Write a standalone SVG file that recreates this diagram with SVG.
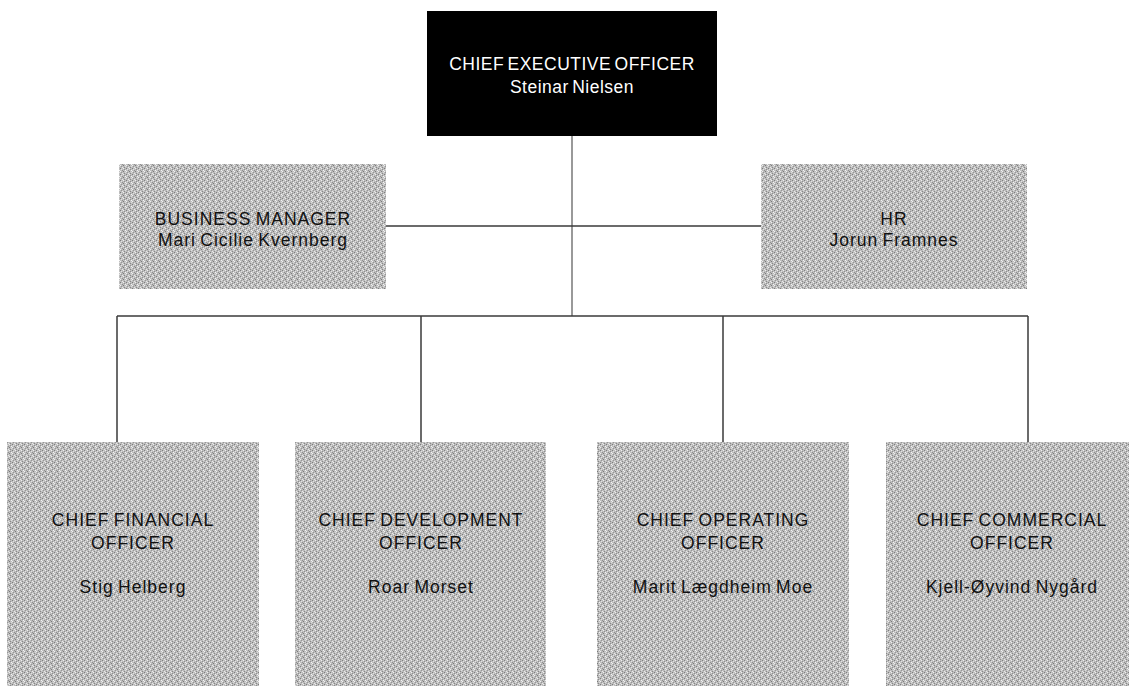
<svg xmlns="http://www.w3.org/2000/svg" width="1129" height="686" viewBox="0 0 1129 686">
  <defs>
    <pattern id="dither" x="0" y="0" width="6" height="6" patternUnits="userSpaceOnUse">
      <rect width="6" height="6" fill="#bdbdbd"/>
      <rect x="0" y="0" width="1" height="1" fill="#7e7e7e"/>
      <rect x="3" y="0" width="1" height="1" fill="#eeeeee"/>
      <rect x="1" y="1" width="1" height="1" fill="#e2e2e2"/>
      <rect x="4" y="1" width="1" height="1" fill="#8f8f8f"/>
      <rect x="2" y="2" width="1" height="1" fill="#909090"/>
      <rect x="5" y="2" width="1" height="1" fill="#f4f4f4"/>
      <rect x="0" y="3" width="1" height="1" fill="#f0f0f0"/>
      <rect x="3" y="3" width="1" height="1" fill="#7a7a7a"/>
      <rect x="1" y="4" width="1" height="1" fill="#969696"/>
      <rect x="5" y="4" width="1" height="1" fill="#dddddd"/>
      <rect x="2" y="5" width="1" height="1" fill="#e8e8e8"/>
      <rect x="4" y="5" width="1" height="1" fill="#888888"/>
    </pattern>
  </defs>
  <style>
    .box { fill: url(#dither); }
    .ceo { fill: #000000; }
    .t { font-family: "Liberation Sans", Arial, sans-serif; font-size: 17.5px; letter-spacing: 1px; word-spacing: -1.5px; text-anchor: middle; fill: #111111; }
    .tw { fill: #ffffff; letter-spacing: 0.5px; word-spacing: -2px; }
    .trunk { stroke: #999999; stroke-width: 2; fill: none; }
    .link { stroke: #3a3a3a; stroke-width: 1.5; fill: none; }
  </style>
  <rect width="1129" height="686" fill="#ffffff"/>

  <g id="connectors">
    <line class="trunk" x1="572" y1="136" x2="572" y2="316"/>
    <line class="link" x1="386" y1="226" x2="761" y2="226"/>
    <line class="link" x1="117" y1="316" x2="1028" y2="316"/>
    <line class="link" x1="117" y1="316" x2="117" y2="442"/>
    <line class="link" x1="421" y1="316" x2="421" y2="442"/>
    <line class="link" x1="723" y1="316" x2="723" y2="442"/>
    <line class="link" x1="1028" y1="316" x2="1028" y2="442"/>
  </g>

  <g id="ceo">
    <rect class="ceo" x="427" y="11" width="290" height="125"/>
    <text class="t tw" x="572" y="70">CHIEF EXECUTIVE OFFICER</text>
    <text class="t tw" x="572" y="92.5">Steinar Nielsen</text>
  </g>

  <g id="business-manager">
    <rect class="box" x="119" y="164" width="267" height="125"/>
    <text class="t" x="253" y="224.5">BUSINESS MANAGER</text>
    <text class="t" x="253" y="246">Mari Cicilie Kvernberg</text>
  </g>

  <g id="hr">
    <rect class="box" x="761" y="164" width="266" height="125"/>
    <text class="t" x="894" y="224.5">HR</text>
    <text class="t" x="894" y="246">Jorun Framnes</text>
  </g>

  <g id="cfo">
    <rect class="box" x="7" y="442" width="252" height="244"/>
    <text class="t" x="133" y="526">CHIEF FINANCIAL</text>
    <text class="t" x="133" y="549">OFFICER</text>
    <text class="t" x="133" y="593">Stig Helberg</text>
  </g>

  <g id="cdo">
    <rect class="box" x="295" y="442" width="251" height="244"/>
    <text class="t" x="421" y="526">CHIEF DEVELOPMENT</text>
    <text class="t" x="421" y="549">OFFICER</text>
    <text class="t" x="421" y="593">Roar Morset</text>
  </g>

  <g id="coo">
    <rect class="box" x="597" y="442" width="252" height="244"/>
    <text class="t" x="723" y="526">CHIEF OPERATING</text>
    <text class="t" x="723" y="549">OFFICER</text>
    <text class="t" x="723" y="593">Marit Lægdheim Moe</text>
  </g>

  <g id="cco">
    <rect class="box" x="886" y="442" width="252" height="244"/>
    <text class="t" x="1012" y="526">CHIEF COMMERCIAL</text>
    <text class="t" x="1012" y="549">OFFICER</text>
    <text class="t" x="1012" y="593">Kjell-Øyvind Nygård</text>
  </g>
</svg>
